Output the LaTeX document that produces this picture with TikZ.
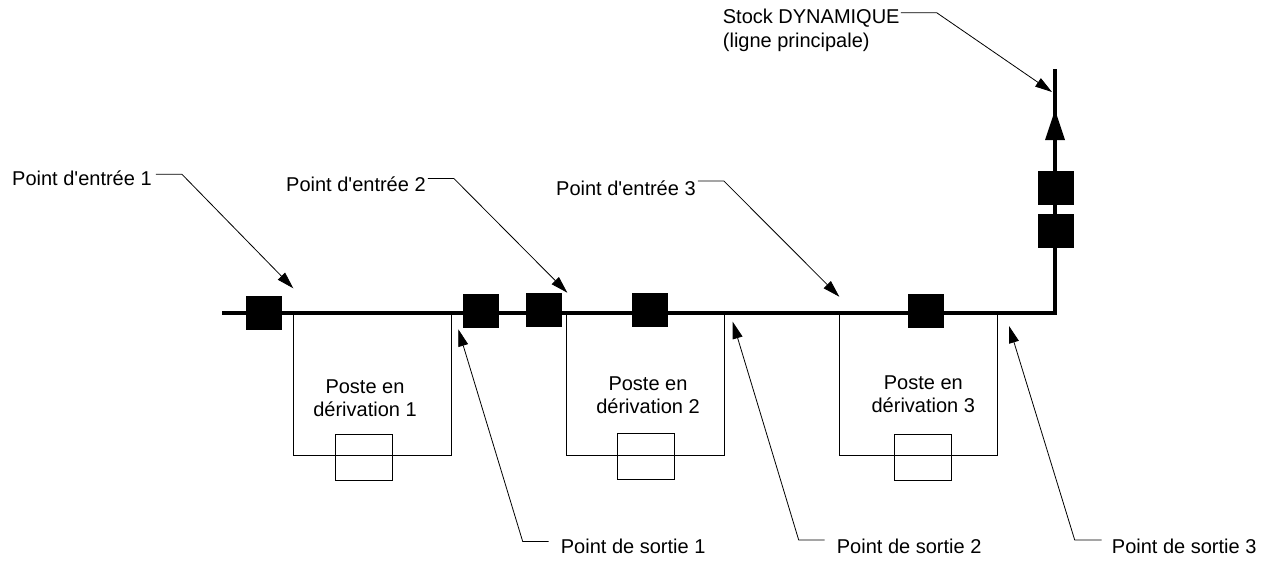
\documentclass[tikz,border=0pt]{standalone}
\usepackage{fontspec}
\setmainfont{Liberation Sans}[Ligatures=TeXOff]
\usetikzlibrary{arrows.meta}
\tikzset{
  txt/.style={inner sep=0pt, font=\fontsize{20}{23}\selectfont},
  lbl/.style={txt, anchor=base west, text height=14pt, text depth=0pt},
  boxnode/.style={draw, line width=0.9pt, inner sep=0pt, minimum width=158pt, minimum height=142pt},
  smallbox/.style={draw, line width=0.9pt, inner sep=0pt, minimum width=57pt, minimum height=46pt},
  blk/.style={fill=black, inner sep=0pt, minimum width=36pt, minimum height=34pt},
  mainline/.style={line width=4pt, line join=miter},
  leader/.style={line width=0.8pt, -{Triangle[length=17pt,width=10pt]}},
}
\begin{document}
\begin{tikzpicture}[x=1pt,y=-1pt]
\useasboundingbox (0,0) rectangle (1275,562);

% branch boxes
\node[boxnode] (B1) at (372.3,384) {};
\node[boxnode] (B2) at (645.2,384) {};
\node[boxnode] (B3) at (918,384.5) {};
\node[smallbox] (b1) at (363.7,457.2) {};
\node[smallbox] (b2) at (646.2,456.2) {};
\node[smallbox] (b3) at (922.9,457) {};
\node[txt, align=center] (t1) at (365,398.5) {Poste en\\dérivation 1};
\node[txt, align=center] (t2) at (648,395) {Poste en\\dérivation 2};
\node[txt, align=center] (t3) at (923.3,394.5) {Poste en\\dérivation 3};

% main line
\coordinate (start) at (222,313);
\coordinate (corner) at (1055,313);
\coordinate (top) at (1055,69);
\draw[mainline] (start) -- (corner) -- (top);
\fill (1045,140) -- (1055,110) -- (1065,140) -- cycle;

% black squares
\node[blk] (q1) at (264,312.5) {};
\node[blk] (q2) at (480.5,311) {};
\node[blk] (q3) at (544,310.3) {};
\node[blk] (q4) at (650,309.7) {};
\node[blk] (q5) at (926,311) {};
\node[blk] (q6) at (1055.5,187.5) {};
\node[blk] (q7) at (1055.5,231) {};

% labels
\node[lbl] (in1) at (12,185.7) {Point d'entrée 1};
\node[lbl] (in2) at (286,191) {Point d'entrée 2};
\node[lbl] (in3) at (556,195) {Point d'entrée 3};
\node[lbl] (st1) at (722.7,23.3) {Stock DYNAMIQUE};
\node[lbl] (st2) at (722.7,47) {(ligne principale)};
\node[lbl] (out1) at (560.7,553.5) {Point de sortie 1};
\node[lbl] (out2) at (836.7,553.5) {Point de sortie 2};
\node[lbl] (out3) at (1111.7,553.5) {Point de sortie 3};

% arrow tips
\coordinate (e1) at (293.3,288.3);
\coordinate (e2) at (567.3,292.7);
\coordinate (e3) at (839.3,296.7);
\coordinate (es) at (1052,92);
\coordinate (s1) at (458.3,329.3);
\coordinate (s2) at (732.7,321.7);
\coordinate (s3) at (1009,326);

% leaders
\draw[leader] ([xshift=4pt,yshift=4.5pt]in1.east) -- ++(26,0) -- (e1);
\draw[leader] ([xshift=2pt,yshift=5.5pt]in2.east) -- ++(26,0) -- (e2);
\draw[leader] ([xshift=2pt,yshift=7pt]in3.east) -- ++(26,0) -- (e3);
\draw[leader] ([xshift=1pt,yshift=3.5pt]st1.east) -- ++(36,0) -- (es);
\draw[leader] ([xshift=-12pt,yshift=5pt]out1.west) -- ++(-26,0) -- (s1);
\draw[leader] ([xshift=-12pt,yshift=6.5pt]out2.west) -- ++(-26,0) -- (s2);
\draw[leader] ([xshift=-10pt,yshift=6.5pt]out3.west) -- ++(-27,0) -- (s3);
\end{tikzpicture}
\end{document}
